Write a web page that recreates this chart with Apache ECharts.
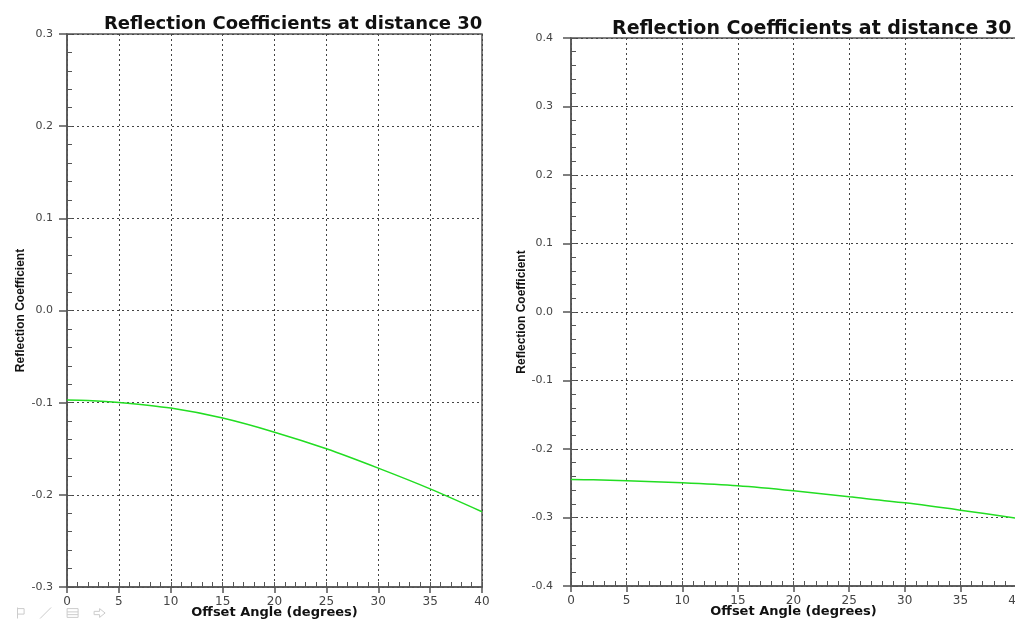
<!DOCTYPE html>
<html>
<head>
<meta charset="utf-8">
<script src="https://cdn.jsdelivr.net/npm/echarts@6/dist/echarts.min.js"></script>
<style>
  html, body { margin: 0; padding: 0; background: #fff; }
  #chart { width: 1015px; height: 622px; }
</style>
</head>
<body>
<div id="chart"></div>
<script>
// offset angle samples (degrees)
var angles = [0, 2, 5, 10, 15, 20, 25, 30, 35, 40];
// left panel: reflection coefficient
var leftCoef = [-0.0972, -0.0976, -0.0997, -0.1059, -0.1167, -0.132, -0.150, -0.171, -0.1935, -0.2183];
// right panel: reflection coefficient
var rightCoef = [-0.2444, -0.2448, -0.2464, -0.2493, -0.2537, -0.261, -0.2698, -0.2786, -0.2893, -0.301];

var leftTicks = { min: -0.3, max: 0.3 };
var rightTicks = { min: -0.4, max: 0.4 };
var titleText = 'Reflection Coefficients at distance 30';

var chart = echarts.init(document.getElementById('chart'));
var font = 'DejaVu Sans, sans-serif';
var nameFont = 'Liberation Sans, Arial, sans-serif';
var axisColor = '#555';

function pairs(ys) {
    return angles.map(function (a, i) { return [a, ys[i]]; });
}

function mainX(grid) {
    return {
        gridIndex: grid, type: 'value', min: 0, max: 40, interval: 5,
        name: 'Offset Angle (degrees)', nameLocation: 'middle', nameGap: 19, nameMoveOverlap: false,
        nameTextStyle: { fontFamily: font, fontWeight: 'bold', fontSize: 13, color: '#111' },
        axisLine: { onZero: false, lineStyle: { color: axisColor, width: 1.5 } },
        axisTick: { length: 6, lineStyle: { color: axisColor, width: 1.5 } },
        axisLabel: { margin: 9, fontFamily: font, fontSize: 12, color: '#444' },
        splitLine: { show: true, lineStyle: { color: '#444', type: [2, 3], width: 1 } }
    };
}
function minorX(grid) {
    return {
        gridIndex: grid, type: 'value', min: 0, max: 40, interval: 1, position: 'bottom',
        axisLine: { show: false, onZero: false },
        axisTick: { inside: true, length: 5, lineStyle: { color: axisColor } },
        axisLabel: { show: false }, splitLine: { show: false }
    };
}
function mainY(grid, r, gap, margin) {
    return {
        gridIndex: grid, type: 'value', min: r.min, max: r.max, interval: 0.1,
        name: 'Reflection Coefficient', nameLocation: 'middle', nameGap: gap, nameRotate: 90, nameMoveOverlap: false,
        nameTextStyle: { fontFamily: nameFont, fontWeight: 'bold', fontSize: 12, color: '#111' },
        axisLine: { onZero: false, lineStyle: { color: axisColor, width: 1.5 } },
        axisTick: { length: 8, lineStyle: { color: axisColor, width: 1.5 } },
        axisLabel: {
            margin: margin, fontFamily: font, fontSize: 11, color: '#444',
            formatter: function (v) { return v.toFixed(1); }
        },
        splitLine: { show: true, lineStyle: { color: '#444', type: [2, 3], width: 1 } }
    };
}
function minorY(grid, r) {
    return {
        gridIndex: grid, type: 'value', min: r.min, max: r.max, interval: 0.02, position: 'left',
        axisLine: { show: false, onZero: false },
        axisTick: { inside: true, length: 5, lineStyle: { color: axisColor } },
        axisLabel: { show: false }, splitLine: { show: false }
    };
}
function curve(xi, yi, ys) {
    return {
        type: 'line', xAxisIndex: xi, yAxisIndex: yi, data: pairs(ys),
        smooth: 0.3, showSymbol: false, silent: true,
        lineStyle: { color: '#22dd22', width: 1.5 }
    };
}

function iconBtn(path) {
    return { show: true, title: '', icon: path, onclick: function () {} };
}

var option = {
    backgroundColor: '#fff',
    animation: false,
    title: [
        { text: titleText, left: 99, top: 10, textStyle: { fontFamily: font, fontWeight: 'bold', fontSize: 18, color: '#111' } },
        { text: titleText, left: 607, top: 15, textStyle: { fontFamily: font, fontWeight: 'bold', fontSize: 19, color: '#111' } }
    ],
    toolbox: {
        left: 0, top: 590, itemSize: 11, itemGap: 11,
        iconStyle: { borderColor: '#ccc', borderWidth: 1 },
        feature: {
            myFlag: iconBtn('path://M2,0 L2,20 M2,2 L14,2 L14,12 L2,12'),
            myLine: iconBtn('path://M0,20 L20,0'),
            myView: iconBtn('path://M0,2 L20,2 L20,18 L0,18 Z M0,8 L20,8 M0,13 L20,13'),
            myArrow: iconBtn('path://M0,7 L10,7 L10,2 L20,10 L10,18 L10,13 L0,13 Z')
        }
    },
    grid: [
        { left: 67, top: 34, width: 415, height: 553, outerBoundsMode: 'none', show: true, borderColor: axisColor, borderWidth: 1.5 },
        { left: 571, top: 38, width: 445, height: 548, outerBoundsMode: 'none', show: true, borderColor: axisColor, borderWidth: 1.5 }
    ],
    xAxis: [mainX(0), minorX(0), mainX(1), minorX(1)],
    yAxis: [mainY(0, leftTicks, 40, 14), minorY(0, leftTicks), mainY(1, rightTicks, 43, 18), minorY(1, rightTicks)],
    series: [curve(0, 0, leftCoef), curve(2, 2, rightCoef)]
};
chart.setOption(option);
</script>
</body>
</html>
